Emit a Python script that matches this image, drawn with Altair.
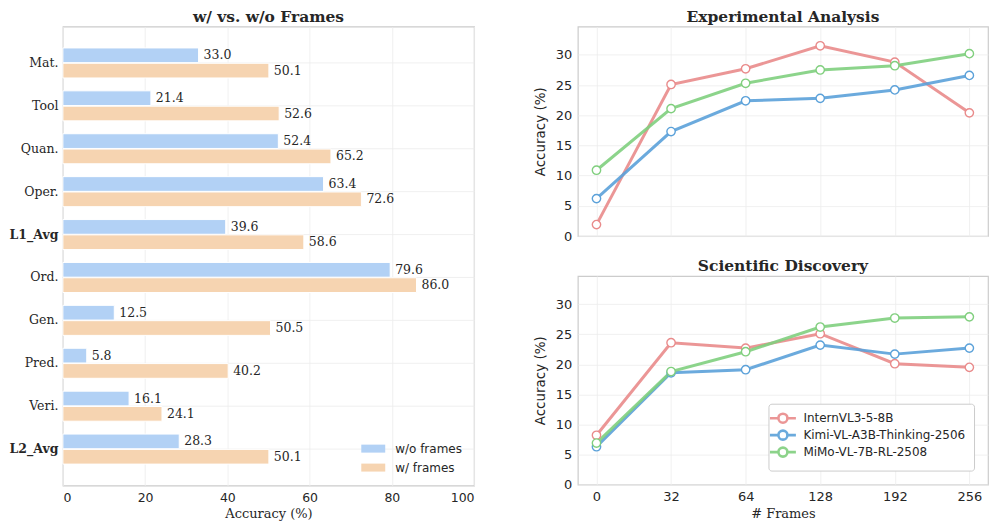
import altair as alt
import pandas as pd

# ---------------- data ----------------
categories = ["Mat.", "Tool", "Quan.", "Oper.", "L1_Avg", "Ord.", "Gen.", "Pred.", "Veri.", "L2_Avg"]
wo_frames = [33.0, 21.4, 52.4, 63.4, 39.6, 79.6, 12.5, 5.8, 16.1, 28.3]
w_frames = [50.1, 52.6, 65.2, 72.6, 58.6, 86.0, 50.5, 40.2, 24.1, 50.1]
bar_series = ["w/o frames", "w/ frames"]
bar_colors = ["#b2d1f5", "#f6d4b1"]

frames = [0, 32, 64, 128, 192, 256]
models = ["InternVL3-5-8B", "Kimi-VL-A3B-Thinking-2506", "MiMo-VL-7B-RL-2508"]
line_colors = ["#e98b8b", "#5ba1d9", "#80cf7e"]

exp_intern = [1.9, 25.1, 27.7, 31.5, 28.8, 20.4]
exp_kimi = [6.2, 17.3, 22.4, 22.8, 24.2, 26.6]
exp_mimo = [10.9, 21.1, 25.3, 27.5, 28.2, 30.2]

sci_intern = [8.2, 23.6, 22.7, 25.1, 20.1, 19.5]
sci_kimi = [6.3, 18.6, 19.1, 23.2, 21.7, 22.7]
sci_mimo = [6.9, 18.8, 22.1, 26.2, 27.7, 27.9]

y_ticks = [0, 5, 10, 15, 20, 25, 30]
x_ticks_bar = [0, 20, 40, 60, 80, 100]

TXT = "#262626"

# ---------------- bar chart ----------------
bar_df = pd.DataFrame({
    "cat": categories * 2,
    "series": [bar_series[0]] * len(categories) + [bar_series[1]] * len(categories),
    "value": wo_frames + w_frames,
})
bar_df["label"] = bar_df["value"].map(lambda v: f"{v:.1f}")

bar_base = alt.Chart(bar_df).encode(
    y=alt.Y(
        "cat:N", sort=categories,
        scale=alt.Scale(paddingInner=0.3, paddingOuter=0.5),
        axis=alt.Axis(
            title=None, labelFont="DejaVu Serif", labelFontSize=12.5, labelColor=TXT,
            labelFontWeight={"condition": {"test": "indexof(datum.value, 'Avg') >= 0", "value": "bold"}, "value": "normal"},
            ticks=False, domain=False, labelPadding=5, bandPosition=0.5, grid=True,
        ),
    ),
    yOffset=alt.YOffset("series:N", sort=bar_series, scale=alt.Scale(paddingInner=0.04)),
    x=alt.X(
        "value:Q", scale=alt.Scale(domain=[0, 100], nice=False),
        axis=alt.Axis(
            values=x_ticks_bar, title="Accuracy (%)", titleFont="DejaVu Serif", titleFontSize=13,
            titleFontWeight="normal", titleColor=TXT, labelFont="DejaVu Sans", labelFontSize=12.5,
            labelColor=TXT, ticks=False, domain=False, labelPadding=6, titlePadding=4,
        ),
    ),
)

bars = bar_base.mark_bar(stroke="white", strokeWidth=1).encode(
    color=alt.Color(
        "series:N", sort=bar_series,
        scale=alt.Scale(domain=bar_series, range=bar_colors),
        legend=alt.Legend(
            title=None, orient="bottom-right", offset=6, labelFont="DejaVu Sans", labelFontSize=12,
            labelColor=TXT, symbolType="M-1.5,-0.5H1.5V0.5H-1.5Z", symbolSize=256, symbolStrokeWidth=0,
            rowPadding=5, labelOffset=14, padding=6, labelLimit=0,
        ),
    )
)
bar_text = bar_base.mark_text(
    align="left", baseline="middle", dx=5, font="DejaVu Serif", fontSize=12.5, color=TXT
).encode(text="label:N")

bar_chart = (bars + bar_text).properties(
    width=412, height=460,
    title=alt.TitleParams("w/ vs. w/o Frames"),
)

# ---------------- line charts ----------------
def make_df(a, b, c):
    rows = []
    for m, vals in zip(models, [a, b, c]):
        for f, v in zip(frames, vals):
            rows.append({"frames": f, "model": m, "acc": v})
    return pd.DataFrame(rows)


sym_path = ("M-2.6,0H-0.9M0.9,0H2.6"
            "M0.9,0C0.9,0.497 0.497,0.9 0,0.9C-0.497,0.9 -0.9,0.497 -0.9,0"
            "C-0.9,-0.497 -0.497,-0.9 0,-0.9C0.497,-0.9 0.9,-0.497 0.9,0Z")


def line_panel(df, title, bottom, height):
    if bottom:
        xaxis = alt.Axis(
            title="# Frames", titleFont="DejaVu Serif", titleFontSize=13, titleFontWeight="normal",
            titleColor=TXT, labelFont="DejaVu Sans", labelFontSize=13, labelColor=TXT, labelAngle=0,
            ticks=False, domain=False, labelPadding=6, titlePadding=4, grid=True,
        )
        legend = alt.Legend(
            title=None, orient="bottom-right", offset=14, fillColor="white", strokeColor="#cccccc",
            padding=8, cornerRadius=3, labelFont="DejaVu Sans", labelFontSize=12, labelColor=TXT,
            symbolType=sym_path, symbolSize=100, symbolStrokeWidth=2.6, rowPadding=-5, labelOffset=14,
            labelLimit=0,
        )
    else:
        xaxis = alt.Axis(title=None, labels=False, ticks=False, domain=False, grid=True)
        legend = None
    base = alt.Chart(df).encode(
        x=alt.X("frames:O", sort=frames, scale=alt.Scale(type="point", padding=0.25), axis=xaxis),
        y=alt.Y(
            "acc:Q", scale=alt.Scale(domain=[0, 34.7], nice=False),
            axis=alt.Axis(
                values=y_ticks, title="Accuracy (%)", titleFont="DejaVu Sans", titleFontSize=13.5,
                titleFontWeight="normal", titleColor=TXT, labelFont="DejaVu Sans", labelFontSize=13,
                labelColor=TXT, ticks=False, domain=False, labelPadding=6, titlePadding=8,
            ),
        ),
    )
    lines = base.mark_line(strokeWidth=3, opacity=0.9).encode(
        color=alt.Color("model:N", sort=models, scale=alt.Scale(domain=models, range=line_colors), legend=legend)
    )
    pts = base.mark_point(filled=True, fill="white", size=70, strokeWidth=1.4, opacity=1).encode(
        stroke=alt.Stroke("model:N", sort=models, scale=alt.Scale(domain=models, range=line_colors), legend=None)
    )
    return (lines + pts).properties(width=411, height=height, title=alt.TitleParams(title))


top = line_panel(make_df(exp_intern, exp_kimi, exp_mimo), "Experimental Analysis", False, 210)
bottom = line_panel(make_df(sci_intern, sci_kimi, sci_mimo), "Scientific Discovery", True, 209)

right = alt.vconcat(top, bottom, spacing=14).resolve_scale(color="independent", stroke="independent").resolve_legend(
    color="independent", stroke="independent")

chart = alt.hconcat(bar_chart, right, spacing=57).resolve_scale(color="independent").resolve_legend(
    color="independent"
).configure_view(stroke="#cccccc", strokeWidth=1.2).configure_axis(
    gridColor="#ececec", gridWidth=0.8
).configure_title(
    font="DejaVu Serif", fontSize=15.5, fontWeight="bold", color=TXT, offset=1, anchor="middle"
).properties(padding=0, background="white")

chart.save("out.html", embed_options={"renderer": "svg", "actions": False})
